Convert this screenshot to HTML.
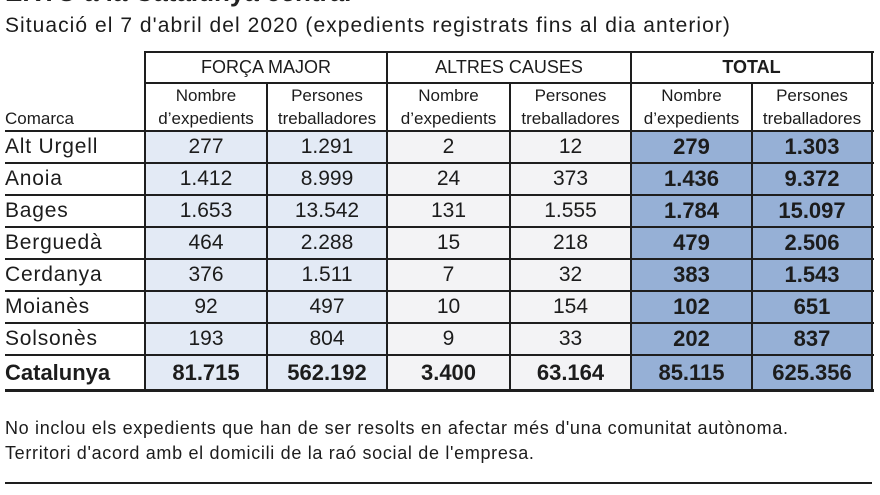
<!DOCTYPE html>
<html><head><meta charset="utf-8">
<style>
html,body{margin:0;padding:0;background:#fff;}
body{width:880px;height:495px;position:relative;overflow:hidden;font-family:"Liberation Sans",sans-serif;color:#1c1c1c;}
.a{position:absolute;white-space:nowrap;}
.bg{position:absolute;}
.h{position:absolute;background:#1e1e1e;height:2px;}
.v{position:absolute;background:#1e1e1e;width:2px;}
.c{position:absolute;text-align:center;white-space:nowrap;font-size:21px;line-height:32px;}
.b{font-weight:bold;font-size:22px;}
.n{position:absolute;left:5px;white-space:nowrap;font-size:21px;line-height:32px;letter-spacing:0.8px;}
.hd{position:absolute;text-align:center;font-size:17px;line-height:23px;white-space:nowrap;}
</style></head><body>

<div class="a" style="left:5px;top:-23px;font-size:26px;line-height:30px;font-weight:bold;color:#222;">ERTO a la Catalunya central</div>
<div class="a" style="left:5px;top:11px;font-size:21px;line-height:30px;letter-spacing:1.05px;">Situació el 7 d'abril del 2020 (expedients registrats fins al dia anterior)</div>

<!-- backgrounds -->
<div class="bg" style="left:145px;top:131px;width:242px;height:259px;background:#e3eaf5;"></div>
<div class="bg" style="left:387px;top:131px;width:244px;height:259px;background:#f3f3f5;"></div>
<div class="bg" style="left:631px;top:131px;width:241px;height:259px;background:#96b0d6;"></div>

<!-- horizontal lines -->
<div class="h" style="left:145px;top:51px;width:729px;"></div>
<div class="h" style="left:145px;top:82px;width:729px;"></div>
<div class="h" style="left:5px;top:130px;width:869px;"></div>
<div class="h" style="left:5px;top:162px;width:869px;"></div>
<div class="h" style="left:5px;top:194px;width:869px;"></div>
<div class="h" style="left:5px;top:226px;width:869px;"></div>
<div class="h" style="left:5px;top:258px;width:869px;"></div>
<div class="h" style="left:5px;top:290px;width:869px;"></div>
<div class="h" style="left:5px;top:322px;width:869px;"></div>
<div class="h" style="left:5px;top:354px;width:869px;"></div>
<div class="h" style="left:5px;top:389px;width:869px;height:3px;"></div>

<!-- vertical lines -->
<div class="v" style="left:144px;top:51px;height:340px;"></div>
<div class="v" style="left:386px;top:51px;height:340px;"></div>
<div class="v" style="left:630px;top:51px;height:340px;"></div>
<div class="v" style="left:871px;top:51px;height:340px;"></div>
<div class="v" style="left:266px;top:82px;height:309px;"></div>
<div class="v" style="left:509px;top:82px;height:309px;"></div>
<div class="v" style="left:751px;top:82px;height:309px;"></div>

<!-- headers -->
<div class="hd" style="left:145px;width:242px;top:52px;line-height:31px;font-size:18px;">FORÇA MAJOR</div>
<div class="hd" style="left:387px;width:244px;top:52px;line-height:31px;font-size:18px;">ALTRES CAUSES</div>
<div class="hd" style="left:631px;width:241px;top:52px;line-height:31px;font-size:18px;font-weight:bold;">TOTAL</div>

<div class="a" style="left:5px;top:107px;font-size:17px;line-height:23px;">Comarca</div>
<div class="hd" style="left:145px;width:122px;top:84px;">Nombre<br>d’expedients</div>
<div class="hd" style="left:267px;width:120px;top:84px;">Persones<br>treballadores</div>
<div class="hd" style="left:387px;width:123px;top:84px;">Nombre<br>d’expedients</div>
<div class="hd" style="left:510px;width:121px;top:84px;">Persones<br>treballadores</div>
<div class="hd" style="left:631px;width:121px;top:84px;">Nombre<br>d’expedients</div>
<div class="hd" style="left:752px;width:120px;top:84px;">Persones<br>treballadores</div>

<!-- rows -->
<div class="n" style="top:131px;">Alt Urgell</div>
<div class="c" style="top:131px;left:145px;width:122px;">277</div>
<div class="c" style="top:131px;left:267px;width:120px;">1.291</div>
<div class="c" style="top:131px;left:387px;width:123px;">2</div>
<div class="c" style="top:131px;left:510px;width:121px;">12</div>
<div class="c b" style="top:131px;left:631px;width:121px;">279</div>
<div class="c b" style="top:131px;left:752px;width:120px;">1.303</div>

<div class="n" style="top:163px;">Anoia</div>
<div class="c" style="top:163px;left:145px;width:122px;">1.412</div>
<div class="c" style="top:163px;left:267px;width:120px;">8.999</div>
<div class="c" style="top:163px;left:387px;width:123px;">24</div>
<div class="c" style="top:163px;left:510px;width:121px;">373</div>
<div class="c b" style="top:163px;left:631px;width:121px;">1.436</div>
<div class="c b" style="top:163px;left:752px;width:120px;">9.372</div>

<div class="n" style="top:195px;">Bages</div>
<div class="c" style="top:195px;left:145px;width:122px;">1.653</div>
<div class="c" style="top:195px;left:267px;width:120px;">13.542</div>
<div class="c" style="top:195px;left:387px;width:123px;">131</div>
<div class="c" style="top:195px;left:510px;width:121px;">1.555</div>
<div class="c b" style="top:195px;left:631px;width:121px;">1.784</div>
<div class="c b" style="top:195px;left:752px;width:120px;">15.097</div>

<div class="n" style="top:227px;">Berguedà</div>
<div class="c" style="top:227px;left:145px;width:122px;">464</div>
<div class="c" style="top:227px;left:267px;width:120px;">2.288</div>
<div class="c" style="top:227px;left:387px;width:123px;">15</div>
<div class="c" style="top:227px;left:510px;width:121px;">218</div>
<div class="c b" style="top:227px;left:631px;width:121px;">479</div>
<div class="c b" style="top:227px;left:752px;width:120px;">2.506</div>

<div class="n" style="top:259px;">Cerdanya</div>
<div class="c" style="top:259px;left:145px;width:122px;">376</div>
<div class="c" style="top:259px;left:267px;width:120px;">1.511</div>
<div class="c" style="top:259px;left:387px;width:123px;">7</div>
<div class="c" style="top:259px;left:510px;width:121px;">32</div>
<div class="c b" style="top:259px;left:631px;width:121px;">383</div>
<div class="c b" style="top:259px;left:752px;width:120px;">1.543</div>

<div class="n" style="top:291px;">Moianès</div>
<div class="c" style="top:291px;left:145px;width:122px;">92</div>
<div class="c" style="top:291px;left:267px;width:120px;">497</div>
<div class="c" style="top:291px;left:387px;width:123px;">10</div>
<div class="c" style="top:291px;left:510px;width:121px;">154</div>
<div class="c b" style="top:291px;left:631px;width:121px;">102</div>
<div class="c b" style="top:291px;left:752px;width:120px;">651</div>

<div class="n" style="top:323px;">Solsonès</div>
<div class="c" style="top:323px;left:145px;width:122px;">193</div>
<div class="c" style="top:323px;left:267px;width:120px;">804</div>
<div class="c" style="top:323px;left:387px;width:123px;">9</div>
<div class="c" style="top:323px;left:510px;width:121px;">33</div>
<div class="c b" style="top:323px;left:631px;width:121px;">202</div>
<div class="c b" style="top:323px;left:752px;width:120px;">837</div>

<div class="n" style="top:356px;line-height:34px;font-weight:bold;font-size:22px;letter-spacing:0;">Catalunya</div>
<div class="c b" style="top:356px;line-height:34px;left:145px;width:122px;">81.715</div>
<div class="c b" style="top:356px;line-height:34px;left:267px;width:120px;">562.192</div>
<div class="c b" style="top:356px;line-height:34px;left:387px;width:123px;">3.400</div>
<div class="c b" style="top:356px;line-height:34px;left:510px;width:121px;">63.164</div>
<div class="c b" style="top:356px;line-height:34px;left:631px;width:121px;">85.115</div>
<div class="c b" style="top:356px;line-height:34px;left:752px;width:120px;">625.356</div>

<!-- footnotes -->
<div class="a" style="left:5px;top:416px;font-size:18px;line-height:25px;letter-spacing:0.68px;">No inclou els expedients que han de ser resolts en afectar més d'una comunitat autònoma.<br>Territori d'acord amb el domicili de la raó social de l'empresa.</div>

<div class="h" style="left:5px;top:482px;width:867px;height:2px;"></div>
</body></html>
